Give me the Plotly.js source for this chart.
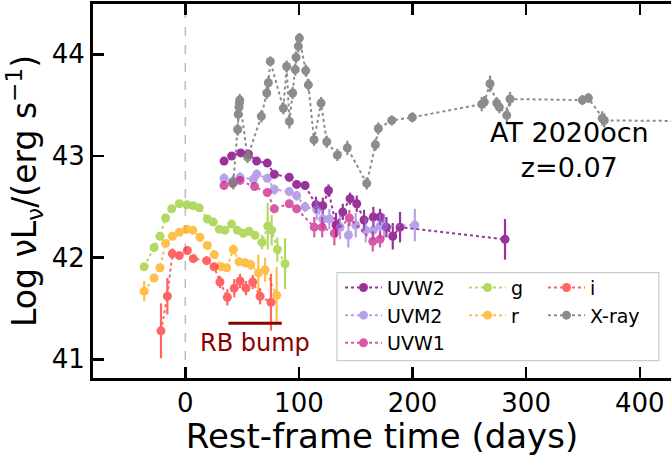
<!DOCTYPE html>
<html>
<head>
<meta charset="utf-8">
<script src="https://cdn.plot.ly/plotly-3.0.1.min.js"></script>
<style>html,body{margin:0;padding:0;background:#fff;}#chart{width:671px;height:456px;}</style>
</head>
<body>
<div id="chart"></div>
<script>
// ---- data (rest-frame days, log nuLnu, 1-sigma errors) ----
const uvw2Days = [34.1, 40.8, 48.8, 55.5, 62.8, 72.2, 78.3, 91.5, 98.0, 105.4, 115.0, 121.0, 126.0, 132.7, 138.6, 145.0, 150.9, 157.3, 165.5, 171.4, 177.0, 182.6, 189.0, 281.4];
const uvw2L    = [42.95, 43.00, 43.03, 43.02, 42.95, 42.93, 42.82, 42.79, 42.72, 42.71, 42.52, 42.51, 42.66, 42.32, 42.45, 42.58, 42.53, 42.37, 42.40, 42.40, 42.30, 42.21, 42.30, 42.18];
const uvw2Err  = [0.04, 0.03, 0.03, 0.03, 0.03, 0.03, 0.04, 0.04, 0.04, 0.04, 0.08, 0.08, 0.06, 0.12, 0.08, 0.06, 0.08, 0.10, 0.10, 0.08, 0.10, 0.13, 0.15, 0.20];

const uvm2Days = [34.1, 41.7, 48.2, 59.9, 62.8, 72.2, 78.3, 91.5, 98.0, 105.4, 115.7, 121.0, 126.8, 136.2, 143.5, 150.0, 158.8, 165.5, 171.4, 175.0, 202.0];
const uvm2L    = [42.78, 42.75, 42.79, 42.77, 42.82, 42.78, 42.67, 42.65, 42.61, 42.50, 42.47, 42.38, 42.38, 42.30, 42.22, 42.32, 42.27, 42.27, 42.31, 42.31, 42.32];
const uvm2Err  = [0.05, 0.05, 0.05, 0.05, 0.05, 0.04, 0.05, 0.04, 0.05, 0.05, 0.10, 0.10, 0.10, 0.12, 0.12, 0.12, 0.12, 0.10, 0.12, 0.12, 0.16];

const uvw1Days = [34.1, 41.7, 48.2, 61.0, 72.2, 78.3, 91.5, 98.0, 113.5, 120.5, 131.2, 144.4, 165.0, 171.4];
const uvw1L    = [42.71, 42.73, 42.76, 42.70, 42.64, 42.48, 42.53, 42.48, 42.30, 42.30, 42.24, 42.39, 42.16, 42.18];
const uvw1Err  = [0.04, 0.04, 0.04, 0.04, 0.04, 0.04, 0.04, 0.04, 0.10, 0.10, 0.12, 0.08, 0.10, 0.08];

const gDays = [-36.2, -27.5, -22.3, -17.3, -12.0, -5.3, 1.5, 7.0, 12.3, 19.4, 24.6, 29.9, 34.9, 40.8, 45.8, 51.1, 56.1, 61.4, 67.5, 72.5, 76.0, 81.0, 87.8];
const gL    = [41.91, 42.10, 42.21, 42.39, 42.48, 42.53, 42.52, 42.51, 42.49, 42.38, 42.35, 42.28, 42.27, 42.33, 42.27, 42.24, 42.26, 42.22, 42.15, 42.31, 42.27, 42.08, 41.94];
const gErr  = [0.03, 0.02, 0.02, 0.02, 0.02, 0.02, 0.02, 0.02, 0.02, 0.02, 0.02, 0.02, 0.02, 0.04, 0.03, 0.03, 0.03, 0.04, 0.07, 0.23, 0.15, 0.12, 0.25];

const rDays = [-36.2, -27.5, -22.3, -17.3, -11.4, -5.3, 1.2, 6.5, 12.9, 19.4, 25.5, 31.4, 36.4, 42.3, 47.3, 52.6, 57.6, 64.3, 70.2, 80.4];
const rL    = [41.67, 41.80, 41.90, 42.14, 42.21, 42.25, 42.28, 42.27, 42.20, 42.12, 42.03, 41.91, 41.90, 42.08, 41.96, 41.95, 41.93, 41.85, 41.88, 41.63];
const rErr  = [0.10, 0.04, 0.03, 0.03, 0.02, 0.02, 0.02, 0.02, 0.04, 0.03, 0.03, 0.04, 0.04, 0.05, 0.04, 0.04, 0.05, 0.18, 0.12, 0.28];

const iDays = [-21.4, -15.8, -11.4, -5.3, 1.8, 7.0, 18.8, 25.3, 30.5, 37.0, 43.1, 48.2, 53.4, 59.3, 65.8, 75.4];
const iL    = [41.28, 41.62, 42.04, 42.02, 42.07, 41.99, 41.97, 41.91, 41.76, 41.61, 41.70, 41.77, 41.70, 41.76, 41.62, 41.56];
const iErr  = [0.27, 0.18, 0.05, 0.04, 0.04, 0.04, 0.04, 0.04, 0.06, 0.08, 0.09, 0.07, 0.07, 0.07, 0.08, 0.28];

const xrayDays = [42.3, 46.1, 46.6, 47.3, 47.6, 47.9, 54.8, 66.9, 71.7, 73.1, 74.8, 86.3, 89.2, 91.6, 94.5, 96.8, 97.5, 99.5, 100.4, 106.0, 108.3, 113.3, 119.5, 124.5, 133.8, 142.6, 159.7, 167.3, 169.9, 181.7, 199.8, 260.9, 263.2, 268.2, 274.1, 276.4, 282.9, 285.8, 349.5, 354.8, 367.0, 368.8, 480.0];
const xrayL    = [42.74, 43.26, 43.41, 43.48, 43.52, 43.55, 42.99, 43.39, 43.62, 43.72, 43.93, 43.47, 43.88, 43.34, 43.62, 43.85, 43.97, 44.08, 44.16, 43.84, 43.70, 43.16, 43.52, 43.14, 43.01, 43.08, 42.73, 43.11, 43.27, 43.35, 43.38, 43.51, 43.53, 43.71, 43.52, 43.48, 43.40, 43.56, 43.55, 43.57, 43.37, 43.35, 43.34];
const xrayErr  = [0.07, 0.06, 0.06, 0.06, 0.06, 0.06, 0.06, 0.06, 0.06, 0.06, 0.05, 0.06, 0.06, 0.07, 0.06, 0.06, 0.06, 0.06, 0.05, 0.06, 0.06, 0.06, 0.06, 0.06, 0.06, 0.07, 0.06, 0.06, 0.06, 0.05, 0.05, 0.07, 0.06, 0.08, 0.06, 0.06, 0.08, 0.07, 0.05, 0.05, 0.07, 0.07, 0.06];

const xTicks = [0, 100, 200, 300, 400];
const yTicks = [41, 42, 43, 44];
const rbBumpDays = [37.9, 84.9];
const rbBumpLevel = 41.355;
const objectLabel = "AT 2020ocn<br>z=0.07";

// ---- traces ----
function mk(name, x, y, err, color, opacity, legend) {
  return {
    type: 'scatter', mode: 'lines+markers', name: name, x: x, y: y,
    legend: legend, opacity: opacity,
    line: {color: color, width: 2, dash: 'dot'},
    marker: {color: color, size: 9, line: {width: 0}},
    error_y: {type: 'data', array: err, visible: true, color: color, thickness: 2.2, width: 0}
  };
}
const data = [
  mk('UVW2', uvw2Days, uvw2L, uvw2Err, '#800080', 0.8, 'legend'),
  mk('UVM2', uvm2Days, uvm2L, uvm2Err, '#9370DB', 0.65, 'legend'),
  mk('UVW1', uvw1Days, uvw1L, uvw1Err, '#C71585', 0.7, 'legend'),
  mk('g', gDays, gL, gErr, '#9ACD32', 0.75, 'legend2'),
  mk('r', rDays, rL, rErr, '#FFA500', 0.7, 'legend2'),
  mk('i', iDays, iL, iErr, '#FF0000', 0.6, 'legend3'),
  mk('X-ray', xrayDays, xrayL, xrayErr, '#808080', 0.9, 'legend3')
];

const font = 'DejaVu Sans, sans-serif';
const legBase = {
  bgcolor: 'rgba(0,0,0,0)', borderwidth: 0, font: {family: font, size: 19, color: '#000'},
  xanchor: 'left', yanchor: 'top', tracegroupgap: 0, itemwidth: 37, orientation: 'v'
};

const layout = {
  width: 671, height: 456,
  margin: {l: 93, r: 0, t: 4, b: 78, pad: 0},
  paper_bgcolor: '#fff', plot_bgcolor: '#fff',
  font: {family: font, color: '#000'},
  showlegend: true,
  xaxis: {
    range: [-81.25, 427.5], tickvals: xTicks, ticktext: xTicks.map(String),
    ticks: 'inside', ticklen: 11, tickwidth: 2.5, tickcolor: '#000',
    showline: true, linewidth: 3, linecolor: '#000', mirror: 'ticks',
    showgrid: false, zeroline: false,
    tickfont: {family: font, size: 26, color: '#000'},
    title: {text: 'Rest-frame time (days)', font: {family: font, size: 34, color: '#000'}, standoff: 8}
  },
  yaxis: {
    range: [40.816, 44.495], tickvals: yTicks, ticktext: yTicks.map(String),
    ticks: 'inside', ticklen: 11, tickwidth: 2.5, tickcolor: '#000',
    showline: true, linewidth: 3, linecolor: '#000', mirror: false,
    showgrid: false, zeroline: false,
    tickfont: {family: font, size: 26, color: '#000'},
    title: {text: 'Log \u03bdL<sub>\u03bd</sub>/(erg s<sup>\u22121</sup>)', font: {family: font, size: 33, color: '#000'}, standoff: 6}
  },
  legend:  Object.assign({}, legBase, {x: 0.4273, y: 0.2925}),
  legend2: Object.assign({}, legBase, {x: 0.6419, y: 0.2925}),
  legend3: Object.assign({}, legBase, {x: 0.7785, y: 0.2925}),
  shapes: [
    {type: 'line', xref: 'x', yref: 'paper', x0: 0, x1: 0, y0: 0, y1: 1, layer: 'below',
     line: {color: '#bdbdbd', width: 1.5, dash: 'dash'}},
    {type: 'line', xref: 'x', yref: 'y', x0: rbBumpDays[0], x1: rbBumpDays[1], y0: rbBumpLevel, y1: rbBumpLevel,
     line: {color: '#8B0000', width: 3}},
    {type: 'rect', xref: 'paper', yref: 'paper', x0: 0.422, x1: 0.979, y0: 0.0463, y1: 0.2816, layer: 'above',
     fillcolor: 'rgba(255,255,255,0.8)', line: {color: '#cccccc', width: 1.2}}
  ],
  annotations: [
    {xref: 'x', yref: 'y', x: (rbBumpDays[0] + rbBumpDays[1]) / 2, y: 41.16, text: 'RB bump', showarrow: false,
     font: {family: font, size: 24, color: '#8B0000'}, xanchor: 'center', yanchor: 'middle'},
    {xref: 'x', yref: 'y', x: 337.8, y: 43.06, text: objectLabel, showarrow: false,
     font: {family: font, size: 27, color: '#000'}, xanchor: 'center', yanchor: 'middle', align: 'center'}
  ]
};

Plotly.newPlot('chart', data, layout, {displayModeBar: false, staticPlot: true});
</script>
</body>
</html>
